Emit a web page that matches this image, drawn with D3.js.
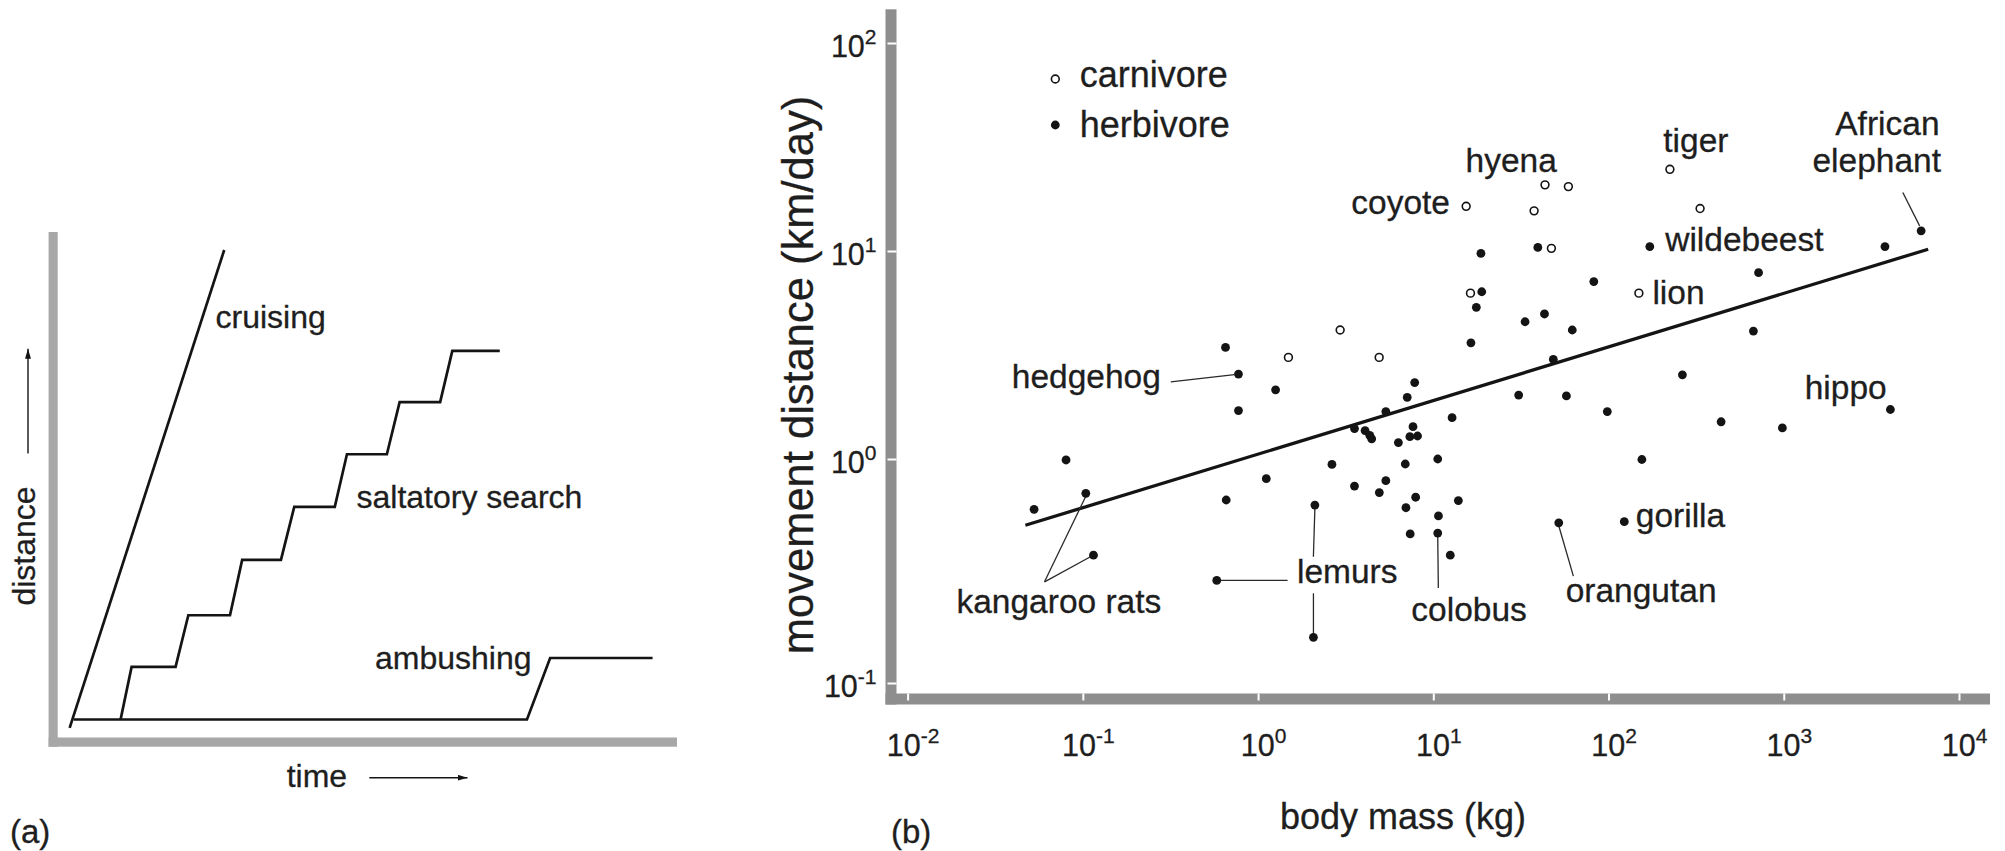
<!DOCTYPE html>
<html>
<head>
<meta charset="utf-8">
<script src="https://cdn.jsdelivr.net/npm/d3@7"></script>
<style>
  html, body { margin: 0; padding: 0; background: #fff; }
  svg { display: block; font-family: "Liberation Sans", Arial, sans-serif; }
  svg text { stroke-width: 0.3px; }
</style>
</head>
<body>
<svg id="fig" width="2005" height="851"></svg>
<script>
// ---------- Panel (a): search modes, distance against time (arbitrary units) ----------
const cruisingTime  = [-0.7, 26.0];
const cruisingDist  = [-1.8, 100];
const saltatoryTime = [8.1, 10.0, 17.6, 19.8, 27.0, 29.1, 35.8, 38.1, 45.1, 47.2, 54.1, 56.3, 63.3, 65.4, 73.6];
const saltatoryDist = [0, 11.2, 11.2, 22.2, 22.2, 34.0, 34.0, 45.3, 45.3, 56.5, 56.5, 67.6, 67.6, 78.5, 78.5];
const ambushTime    = [0, 78.3, 82.3, 100];
const ambushDist    = [0, 0, 13.1, 13.1];

// ---------- Panel (b): daily movement distance against body mass ----------
const herbMass = [0.0527, 0.0802, 0.104, 0.115, 0.581, 0.652, 0.658, 0.773, 0.773, 1.114,
                  1.259, 2.07, 2.11, 2.64, 3.55, 3.55, 4.08, 4.34, 4.45, 4.92,
                  5.36, 5.36, 6.32, 6.92, 6.98, 7.10, 7.35, 7.38, 7.66, 7.83,
                  7.93, 8.13, 10.6, 10.6, 10.7, 12.5, 12.8, 13.9, 16.4, 17.6,
                  18.7, 18.9, 30.7, 33.4, 39.5, 43.1, 48.4, 52.0, 57.5, 62.1,
                  82.4, 98.4, 123, 155, 172, 264, 439, 671, 718, 982,
                  3780, 4060, 6080];
const herbDist = [0.596, 0.990, 0.703, 0.372, 0.287, 3.44, 0.656, 2.56, 1.71, 0.817,
                  2.15, 0.160, 0.623, 0.946, 1.40, 0.757, 1.37, 1.30, 1.25, 0.708,
                  1.69, 0.800, 1.20, 0.950, 0.606, 1.98, 1.28, 0.463, 1.43, 2.33,
                  0.675, 1.29, 1.00, 0.467, 0.557, 0.372, 1.58, 0.652, 3.62, 5.36,
                  9.75, 6.37, 2.03, 4.57, 10.4, 4.98, 3.01, 0.519, 2.01, 4.17,
                  7.13, 1.69, 0.525, 0.995, 10.5, 2.54, 1.51, 4.12, 7.87, 1.41,
                  10.5, 1.73, 12.5];
const carnMass = [1.49, 2.94, 4.91, 15.4, 16.3, 37.6, 43.4, 47.2, 59.0, 149, 224, 333];
const carnDist = [3.08, 4.17, 3.08, 16.4, 6.27, 15.6, 20.8, 10.3, 20.4, 6.27, 24.7, 16.0];

// fitted allometric line, end points
const trendMass = [0.047, 6670];
const trendDist = [0.506, 10.2];

const massTicks = [1e-2, 1e-1, 1e0, 1e1, 1e2, 1e3, 1e4];
const distTicks = [1e-1, 1e0, 1e1, 1e2];

const legendLabels = ["carnivore", "herbivore"];

// species labels: anchored on a plotted point, offset in pixels
const annotations = [
  { text: "hedgehog",      set: "herb", i: 7,  dx: -77.6, dy: 14,    anchor: "end" },
  { text: "coyote",        set: "carn", i: 3,  dx: -16.2, dy: 7.3,   anchor: "end" },
  { text: "hyena",         set: "carn", i: 6,  dx: -79.5, dy: -13.3, anchor: "start" },
  { text: "tiger",         set: "carn", i: 10, dx: -6.6,  dy: -17.6, anchor: "start" },
  { text: "wildebeest",    set: "herb", i: 54, dx: 15.4,  dy: 4,     anchor: "start" },
  { text: "lion",          set: "carn", i: 9,  dx: 13.5,  dy: 10.7,  anchor: "start" },
  { text: "African",       set: "herb", i: 62, dx: 18.4,  dy: -95.5, anchor: "end" },
  { text: "elephant",      set: "herb", i: 62, dx: 19.9,  dy: -59.3, anchor: "end" },
  { text: "hippo",         set: "herb", i: 61, dx: -3.7,  dy: -10.7, anchor: "end" },
  { text: "gorilla",       set: "herb", i: 52, dx: 11.5,  dy: 5,     anchor: "start" },
  { text: "orangutan",     set: "herb", i: 47, dx: 6.9,   dy: 79,    anchor: "start" },
  { text: "colobus",       set: "herb", i: 33, dx: -26.4, dy: 88.4,  anchor: "start" },
  { text: "lemurs",        set: "herb", i: 4,  dx: 80.2,  dy: 3,     anchor: "start" },
  { text: "kangaroo rats", set: "herb", i: 3,  dx: -137,  dy: 58.3,  anchor: "start" }
];
const leaders = [
  { set: "herb", i: 7,  from: [-4, 0.5],    to: [-67.7, 7.7] },
  { set: "herb", i: 62, from: [-1.5, -5],   to: [-18.3, -38.3] },
  { set: "herb", i: 47, from: [0, 3],       to: [14.6, 53.3] },
  { set: "herb", i: 33, from: [0, 3],       to: [0.6, 55] },
  { set: "herb", i: 4,  from: [3, 0],       to: [70.8, 0] },
  { set: "herb", i: 12, from: [0, 3],       to: [-1.5, 51.7] },
  { set: "herb", i: 11, from: [0, -3],      to: [0, -44] },
  { set: "herb", i: 2,  from: [0, 3],       to: [-41.3, 88.4] },
  { set: "herb", i: 3,  from: [-3, 1.5],    to: [-48.9, 26.7] }
];

// ---------- drawing ----------
const svg = d3.select("#fig");
const textColor = "#1e1e1e";
const inkColor = "#141414";

// ===== Panel (a) =====
const A = { barLeft: 48.6, barTop: 232, barW: 9.1, axisY: 737.5, axisH: 9.2, axisRight: 677 };
const xa = d3.scaleLinear().domain([0, 100]).range([73.7, 652.6]);
const ya = d3.scaleLinear().domain([0, 100]).range([719.5, 250]);
const pa = svg.append("g").attr("class", "panel-a");

pa.append("rect").attr("x", A.barLeft).attr("y", A.barTop)
  .attr("width", A.barW).attr("height", A.axisY + A.axisH - A.barTop).attr("fill", "#a7a7a7");
pa.append("rect").attr("x", A.barLeft).attr("y", A.axisY)
  .attr("width", A.axisRight - A.barLeft).attr("height", A.axisH).attr("fill", "#a7a7a7");

const lineA = d3.line().x(d => xa(d[0])).y(d => ya(d[1]));
const tracks = [
  d3.zip(ambushTime, ambushDist),
  d3.zip(saltatoryTime, saltatoryDist),
  d3.zip(cruisingTime, cruisingDist)
];
pa.selectAll("path.track").data(tracks).join("path")
  .attr("class", "track")
  .attr("d", lineA)
  .attr("fill", "none").attr("stroke", inkColor)
  .attr("stroke-width", 2.7).attr("stroke-linejoin", "miter");

const modeLabels = [
  { text: "cruising", t: 24.5, d: 83.4 },
  { text: "saltatory search", t: 48.85, d: 45.1 },
  { text: "ambushing", t: 52.05, d: 10.8 }
];
pa.selectAll("text.mode").data(modeLabels).join("text")
  .attr("class", "mode")
  .attr("x", d => xa(d.t)).attr("y", d => ya(d.d))
  .attr("font-size", 32).attr("fill", textColor).attr("stroke", textColor)
  .text(d => d.text);

// axis names with arrows
pa.append("text").attr("transform", "translate(34.7,546) rotate(-90)")
  .attr("text-anchor", "middle").attr("font-size", 32)
  .attr("fill", textColor).attr("stroke", textColor).text("distance");
pa.append("text").attr("x", 286.7).attr("y", 786.7)
  .attr("font-size", 32).attr("fill", textColor).attr("stroke", textColor).text("time");

const defs = svg.append("defs");
defs.append("marker").attr("id", "head").attr("viewBox", "0 0 10 6")
  .attr("refX", 10).attr("refY", 3).attr("markerWidth", 10).attr("markerHeight", 6)
  .attr("markerUnits", "userSpaceOnUse").attr("orient", "auto")
  .append("path").attr("d", "M0,0 L10,3 L0,6 Z").attr("fill", inkColor);

pa.append("line").attr("x1", 28).attr("y1", 453.4).attr("x2", 28).attr("y2", 348.8)
  .attr("stroke", inkColor).attr("stroke-width", 1.4).attr("marker-end", "url(#head)");
pa.append("line").attr("x1", 369.3).attr("y1", 777.7).attr("x2", 467.5).attr("y2", 777.7)
  .attr("stroke", inkColor).attr("stroke-width", 1.4).attr("marker-end", "url(#head)");

svg.append("text").attr("x", 9.9).attr("y", 843).attr("font-size", 33)
  .attr("fill", textColor).attr("stroke", textColor).text("(a)");

// ===== Panel (b) =====
const B = { barLeft: 885.5, barW: 11, barTop: 9.3, axisTop: 693.5, axisH: 11, axisRight: 1990 };
const x = d3.scaleLog().domain([1e-2, 1e4]).range([907.6, 1959]);
// decade positions along the distance axis (lowest decade drawn a little taller)
const y = d3.scaleLog().domain([1e-1, 1e0, 1e1, 1e2]).range([683, 459, 251, 43]);
const pb = svg.append("g").attr("class", "panel-b");

pb.append("rect").attr("x", B.barLeft).attr("y", B.barTop)
  .attr("width", B.barW).attr("height", B.axisTop + B.axisH - B.barTop).attr("fill", "#8e8e8e");
pb.append("rect").attr("x", B.barLeft).attr("y", B.axisTop)
  .attr("width", B.axisRight - B.barLeft).attr("height", B.axisH).attr("fill", "#8e8e8e");

function powerLabel(sel, v) {
  const e = Math.round(Math.log10(v));
  sel.append("tspan").text("10");
  sel.append("tspan").attr("dy", -13).attr("font-size", 21).text(e < 0 ? "-" + (-e) : String(e));
}

// y axis: white notches cut into the bar
const gy = pb.append("g").attr("transform", `translate(${B.barLeft + B.barW},0)`)
  .call(d3.axisLeft(y).tickValues(distTicks).tickSize(9).tickFormat(""));
gy.attr("font-family", null).attr("font-size", null);
gy.select(".domain").remove();
gy.selectAll(".tick line").attr("stroke", "#fff").attr("stroke-width", 2);
gy.selectAll(".tick text").remove();
gy.selectAll(".tick").append("text")
  .attr("x", -20).attr("y", 13).attr("text-anchor", "end")
  .attr("font-size", 30.5).attr("fill", textColor).attr("stroke", textColor)
  .each(function (d) { powerLabel(d3.select(this), d); });

// x axis
const gx = pb.append("g").attr("transform", `translate(0,${B.axisTop})`)
  .call(d3.axisBottom(x).tickValues(massTicks).tickSize(7).tickFormat(""));
gx.attr("font-family", null).attr("font-size", null);
gx.select(".domain").remove();
gx.selectAll(".tick line").attr("stroke", "#fff").attr("stroke-width", 2);
gx.selectAll(".tick text").remove();
gx.selectAll(".tick").append("text")
  .attr("x", 5).attr("y", 62.5).attr("text-anchor", "middle")
  .attr("font-size", 30.5).attr("fill", textColor).attr("stroke", textColor)
  .each(function (d) { powerLabel(d3.select(this), d); });

// axis titles
pb.append("text").attr("transform", "translate(813,375) rotate(-90)")
  .attr("text-anchor", "middle").attr("font-size", 43.5)
  .attr("fill", textColor).attr("stroke", textColor)
  .text("movement distance (km/day)");
pb.append("text").attr("x", 1403).attr("y", 829).attr("text-anchor", "middle")
  .attr("font-size", 36).attr("fill", textColor).attr("stroke", textColor)
  .text("body mass (kg)");

// fitted line
pb.append("path")
  .datum(d3.zip(trendMass, trendDist))
  .attr("d", d3.line().x(d => x(d[0])).y(d => y(d[1])))
  .attr("fill", "none").attr("stroke", inkColor).attr("stroke-width", 3.3);

const sets = {
  herb: d3.zip(herbMass, herbDist),
  carn: d3.zip(carnMass, carnDist)
};

// leader lines
pb.selectAll("line.leader").data(leaders).join("line")
  .attr("class", "leader")
  .attr("x1", d => x(sets[d.set][d.i][0]) + d.from[0])
  .attr("y1", d => y(sets[d.set][d.i][1]) + d.from[1])
  .attr("x2", d => x(sets[d.set][d.i][0]) + d.to[0])
  .attr("y2", d => y(sets[d.set][d.i][1]) + d.to[1])
  .attr("stroke", "#2a2a2a").attr("stroke-width", 1.3);

// points
pb.selectAll("circle.herb").data(sets.herb).join("circle")
  .attr("class", "herb")
  .attr("cx", d => x(d[0])).attr("cy", d => y(d[1])).attr("r", 4.4)
  .attr("fill", inkColor);
pb.selectAll("circle.carn").data(sets.carn).join("circle")
  .attr("class", "carn")
  .attr("cx", d => x(d[0])).attr("cy", d => y(d[1])).attr("r", 3.9)
  .attr("fill", "#fff").attr("stroke", inkColor).attr("stroke-width", 1.6);

// species labels
pb.selectAll("text.species").data(annotations).join("text")
  .attr("class", "species")
  .attr("x", d => x(sets[d.set][d.i][0]) + d.dx)
  .attr("y", d => y(sets[d.set][d.i][1]) + d.dy)
  .attr("text-anchor", d => d.anchor)
  .attr("font-size", 33.5).attr("fill", textColor).attr("stroke", textColor)
  .text(d => d.text);

// legend
const legend = pb.append("g").attr("transform", "translate(1055.3,79)");
legend.append("circle").attr("cx", 0).attr("cy", 0).attr("r", 3.9)
  .attr("fill", "#fff").attr("stroke", inkColor).attr("stroke-width", 1.6);
legend.append("circle").attr("cx", 0).attr("cy", 46).attr("r", 4.4).attr("fill", inkColor);
legend.selectAll("text").data(legendLabels).join("text")
  .attr("x", 24.5).attr("y", (d, i) => 8.3 + i * 49.4)
  .attr("font-size", 36).attr("fill", textColor).attr("stroke", textColor).text(d => d);

svg.append("text").attr("x", 891).attr("y", 843).attr("font-size", 33)
  .attr("fill", textColor).attr("stroke", textColor).text("(b)");
</script>
</body>
</html>
